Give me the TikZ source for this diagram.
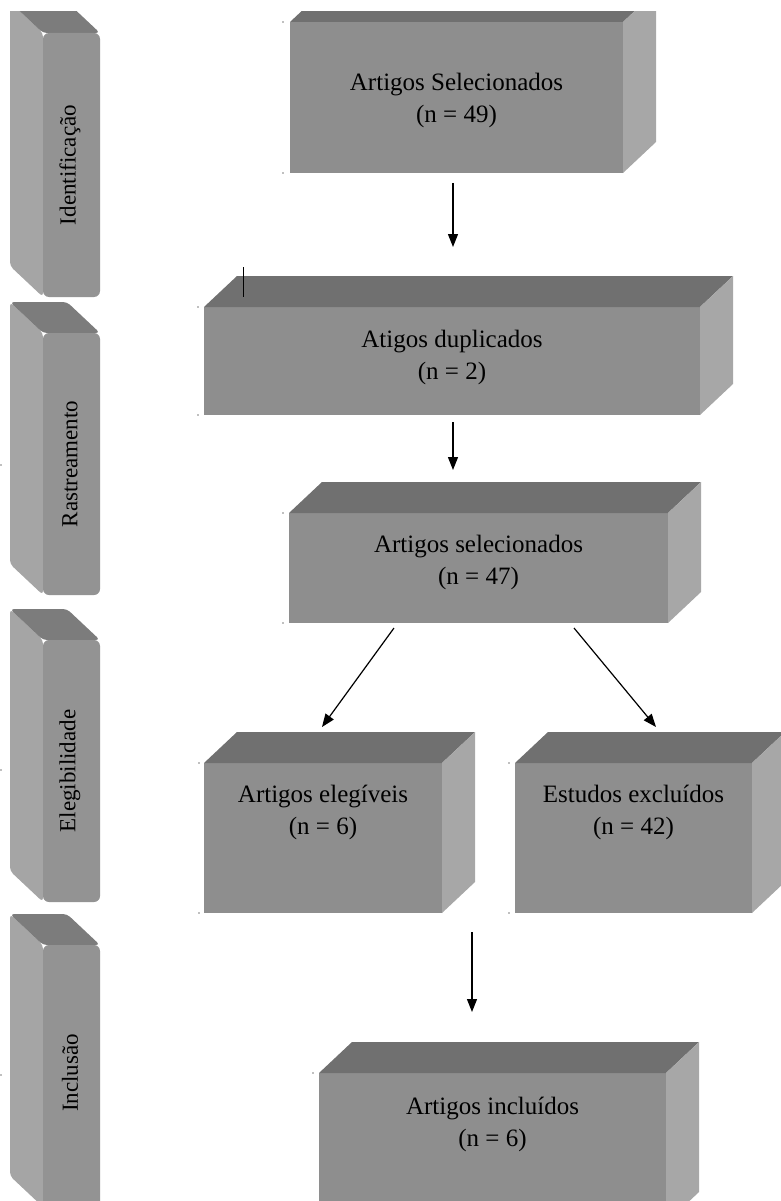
\documentclass[tikz,border=0pt]{standalone}
\usepackage{fontspec}
\setmainfont{Liberation Serif}
\usetikzlibrary{arrows.meta}

\definecolor{caixafrente}{HTML}{8E8E8E}
\definecolor{caixatopo}{HTML}{707070}
\definecolor{caixalado}{HTML}{A7A7A7}
\definecolor{barrafrente}{HTML}{939393}
\definecolor{barralado}{HTML}{A5A5A5}
\definecolor{barratopo}{HTML}{7C7C7C}

\begin{document}
\begin{tikzpicture}[x=1pt, y=-1pt,
    frente/.style={fill=caixafrente, inner sep=0pt, outer sep=0pt, anchor=north west},
    rotulo/.style={align=center, font=\fontsize{25}{32}\selectfont},
    fase/.style={rotate=90, font=\fontsize{23}{28}\selectfont},
    seta/.style={-{Triangle[length=13pt,width=10pt]}, line width=1.2pt}]
    \useasboundingbox (0,0) rectangle (781,1201);
    \clip (0,12) rectangle (781,1201);

    % barras laterais
    \fill[barralado, rounded corners=4pt] (43,33) -- (10,2) -- (10,266) -- (43,297) -- cycle;
    \fill[barratopo, rounded corners=4pt] (43,33) -- (10,2) -- (67,2) -- (100,33) -- cycle;
    \fill[barrafrente, rounded corners=6pt] (43,33) rectangle (100,297);
    \node[fase] (f1) at (70,165) {Identificação};

    \fill[barralado, rounded corners=4pt] (43,333) -- (10,302) -- (10,564) -- (43,595) -- cycle;
    \fill[barratopo, rounded corners=4pt] (43,333) -- (10,302) -- (67,302) -- (100,333) -- cycle;
    \fill[barrafrente, rounded corners=6pt] (43,333) rectangle (100,595);
    \node[fase] (f2) at (70,464) {Rastreamento};

    \fill[barralado, rounded corners=4pt] (43,640) -- (10,609) -- (10,871) -- (43,902) -- cycle;
    \fill[barratopo, rounded corners=4pt] (43,640) -- (10,609) -- (67,609) -- (100,640) -- cycle;
    \fill[barrafrente, rounded corners=6pt] (43,640) rectangle (100,902);
    \node[fase] (f3) at (70,771) {Elegibilidade};

    \fill[barralado, rounded corners=4pt] (43,945) -- (10,914) -- (10,1176) -- (43,1207) -- cycle;
    \fill[barratopo, rounded corners=4pt] (43,945) -- (10,914) -- (67,914) -- (100,945) -- cycle;
    \fill[barrafrente, rounded corners=6pt] (43,945) rectangle (100,1207);
    \node[fase] (f4) at (70,1073) {Inclusão};

    % caixas (face frontal)
    \node[frente, minimum width=333pt, minimum height=151pt] (b1) at (290,22) {};
    \node[frente, minimum width=496pt, minimum height=108pt] (b2) at (204,307) {};
    \node[frente, minimum width=379pt, minimum height=110pt] (b3) at (289,513) {};
    \node[frente, minimum width=238pt, minimum height=150pt] (b4) at (204,763) {};
    \node[frente, minimum width=237pt, minimum height=150pt] (b5) at (515,763) {};
    \node[frente, minimum width=347pt, minimum height=150pt] (b6) at (319,1073) {};

    % topo e lado das caixas
    \fill[caixatopo] (b1.north west) -- ++(33,-31) -- ([shift={(33,-31)}]b1.north east) -- (b1.north east) -- cycle;
    \fill[caixalado] (b1.north east) -- ++(33,-31) -- ([shift={(33,-31)}]b1.south east) -- (b1.south east) -- cycle;
    \fill[caixatopo] (b2.north west) -- ++(33,-31) -- ([shift={(33,-31)}]b2.north east) -- (b2.north east) -- cycle;
    \fill[caixalado] (b2.north east) -- ++(33,-31) -- ([shift={(33,-31)}]b2.south east) -- (b2.south east) -- cycle;
    \fill[caixatopo] (b3.north west) -- ++(33,-31) -- ([shift={(33,-31)}]b3.north east) -- (b3.north east) -- cycle;
    \fill[caixalado] (b3.north east) -- ++(33,-31) -- ([shift={(33,-31)}]b3.south east) -- (b3.south east) -- cycle;
    \fill[caixatopo] (b4.north west) -- ++(33,-31) -- ([shift={(33,-31)}]b4.north east) -- (b4.north east) -- cycle;
    \fill[caixalado] (b4.north east) -- ++(33,-31) -- ([shift={(33,-31)}]b4.south east) -- (b4.south east) -- cycle;
    \fill[caixatopo] (b5.north west) -- ++(33,-31) -- ([shift={(33,-31)}]b5.north east) -- (b5.north east) -- cycle;
    \fill[caixalado] (b5.north east) -- ++(33,-31) -- ([shift={(33,-31)}]b5.south east) -- (b5.south east) -- cycle;
    \fill[caixatopo] (b6.north west) -- ++(33,-31) -- ([shift={(33,-31)}]b6.north east) -- (b6.north east) -- cycle;
    \fill[caixalado] (b6.north east) -- ++(33,-31) -- ([shift={(33,-31)}]b6.south east) -- (b6.south east) -- cycle;

    % textos
    \node[rotulo] (t1) at ([yshift=-78pt]b1.north) {Artigos Selecionados\\(n = 49)};
    \node[rotulo] (t2) at ([yshift=-50pt]b2.north) {Atigos duplicados\\(n = 2)};
    \node[rotulo] (t3) at ([yshift=-49pt]b3.north) {Artigos selecionados\\(n = 47)};
    \node[rotulo] (t4) at ([yshift=-49pt]b4.north) {Artigos elegíveis\\(n = 6)};
    \node[rotulo] (t5) at ([yshift=-49pt]b5.north) {Estudos excluídos\\(n = 42)};
    \node[rotulo] (t6) at ([yshift=-51pt]b6.north) {Artigos incluídos\\(n = 6)};

    % setas
    \coordinate (s1) at (453,183);  \coordinate (e1) at (453,247);
    \coordinate (s2) at (453,422);  \coordinate (e2) at (453,470);
    \coordinate (s3) at (394,628);  \coordinate (e3) at (322,727);
    \coordinate (s4) at (574,628);  \coordinate (e4) at (656,727);
    \coordinate (s5) at (472,932);  \coordinate (e5) at (472,1012);
    \draw[seta] (s1) -- (e1);
    \draw[seta] (s2) -- (e2);
    \draw[seta] (s3) -- (e3);
    \draw[seta] (s4) -- (e4);
    \draw[seta] (s5) -- (e5);

    % traco solto e pontos
    \draw[line width=0.6pt] (243,267) -- (243,297);
    \foreach \p in {(283,22),(283,173),(198,307),(198,415),(283,513),(283,623),
                    (199,763),(199,913),(509,763),(509,913),(313,1073),
                    (1,465),(1,770),(1,1075)}
        \fill[gray] \p circle (0.8pt);
\end{tikzpicture}
\end{document}
